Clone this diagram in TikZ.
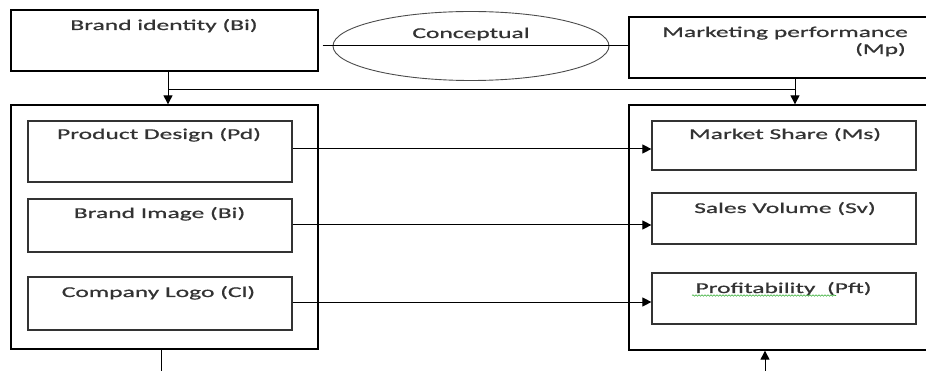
\documentclass[tikz,border=0pt]{standalone}
\usepackage{fontspec}
\setmainfont{Carlito}[FakeStretch=1.7,FakeBold=0.8]
\usetikzlibrary{arrows.meta,shapes.geometric,decorations.pathmorphing}
\begin{document}
\begin{tikzpicture}[x=1pt,y=-1pt,
  box/.style={draw=black,line width=1.3pt,inner sep=0pt,minimum width=#1},
  inbox/.style={draw=black!80,line width=1.2pt,inner sep=0pt,minimum width=264pt},
  lbl/.style={anchor=base,inner sep=0pt,text=black!80,font=\fontsize{15pt}{17pt}\selectfont},
  conn/.style={line width=1pt,draw=black},
  arr/.style={conn,-{Triangle[length=9pt,width=9pt]}}]
\useasboundingbox (0,0) rectangle (926,371);
% top row
\node[box=307pt,minimum height=61pt] (bi) at (164.5,40.5) {};
\node[box=311pt,minimum height=61pt] (mp) at (784.5,47.5) {};
\node[ellipse,draw=black!70,line width=0.9pt,minimum width=276pt,minimum height=69pt,inner sep=0pt] (concept) at (471,46) {};
\node[lbl] (tbi) at (164,30) {Brand identity (Bi)};
\node[lbl] (tcon) at (471,38) {Conceptual};
\node[lbl] (tmp1) at (785,37) {Marketing performance};
\node[lbl,anchor=base east] (tmp2) at (906,54) {(Mp)};
% big containers
\node[box=307pt,minimum height=244pt] (left) at (164.5,227) {};
\node[box=316pt,minimum height=245pt] (right) at (787,227.5) {};
% inner boxes left
\node[inbox,minimum height=61pt] (pd) at (160,151.5) {};
\node[inbox,minimum height=53pt] (bim) at (160,225.5) {};
\node[inbox,minimum height=53pt] (cl) at (160,303.5) {};
\node[lbl] (tpd) at (159,139) {Product Design (Pd)};
\node[lbl] (tbim) at (159.5,218) {Brand Image (Bi)};
\node[lbl] (tcl) at (158.5,297) {Company Logo (Cl)};
% inner boxes right
\node[inbox,minimum height=49pt] (ms) at (784,145.5) {};
\node[inbox,minimum height=51pt] (sv) at (784,218.5) {};
\node[inbox,minimum height=51pt] (pft) at (784,298.5) {};
\node[lbl] (tms) at (785,139) {Market Share (Ms)};
\node[lbl] (tsv) at (785,213) {Sales Volume (Sv)};
\node[lbl] (tpft) at (783.5,293) {Profitability\ \ (Pft)};
\draw[draw=green!60!black!80,line width=0.6pt,decorate,decoration={snake,amplitude=0.7pt,segment length=3pt}] (692,295.5) -- (836,295.5);
% conceptual line
\draw[conn,shorten <=4pt] (bi.east |- concept.center) -- (mp.west |- concept.center);
% top arrows
\coordinate (b1) at ([xshift=3.5pt]bi.south);
\coordinate (m1) at ([xshift=10.5pt]mp.south);
\coordinate (hl) at (0,90);
\draw[arr] (b1) -- (b1 |- left.north);
\draw[arr] (m1) -- (m1 |- right.north);
\draw[conn] (b1 |- hl) -- (m1 |- hl);
% horizontal arrows
\coordinate (a1) at ([yshift=2.5pt]pd.east);
\coordinate (a2) at ([yshift=0.5pt]bim.east);
\coordinate (a3) at ([yshift=1.5pt]cl.east);
\draw[arr] (a1) -- (a1 -| ms.west);
\draw[arr] (a2) -- (a2 -| sv.west);
\draw[arr] (a3) -- (a3 -| pft.west);
% bottom
\coordinate (lb) at ([xshift=-3.5pt]left.south);
\coordinate (lend) at (161,372);
\draw[conn] (lb) -- (lb |- lend);
\coordinate (rend) at (765,372);
\draw[arr] (rend) -- (rend |- right.south);
\end{tikzpicture}
\end{document}
